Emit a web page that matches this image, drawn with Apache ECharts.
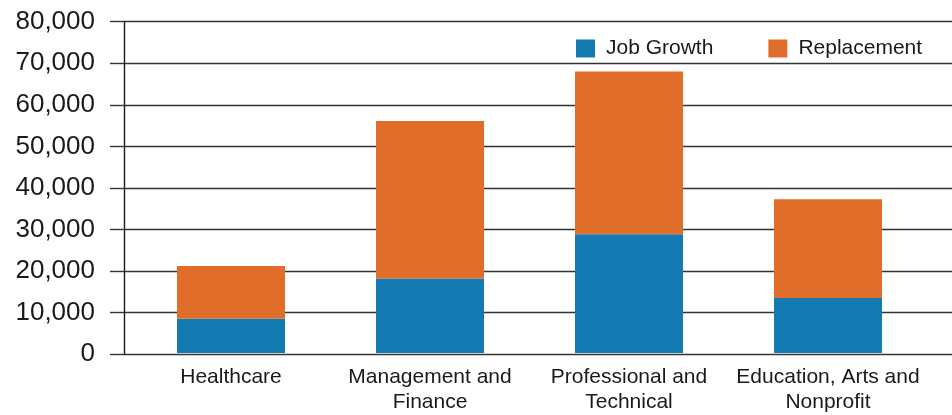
<!DOCTYPE html>
<html>
<head>
<meta charset="utf-8">
<script src="https://cdn.jsdelivr.net/npm/echarts@6/dist/echarts.min.js"></script>
<style>
  html, body { margin: 0; padding: 0; background: #ffffff; }
  #chart { width: 952px; height: 415px; }
</style>
</head>
<body>
<div id="chart"></div>
<script>
// Projected job openings by sector
const categories = ['Healthcare', 'Management and Finance', 'Professional and Technical', 'Education, Arts and Nonprofit'];
const jobGrowth = [8300, 18000, 28700, 13300];
const replacement = [12700, 38000, 39300, 23800];
const yTicks = { min: 0, max: 80000, interval: 10000 };

const FONT = '"Liberation Sans", Arial, Helvetica, sans-serif';
const TEXT = '#1a1a1a';
const BLUE = '#147ab2';
const ORANGE = '#e06d2a';

const chart = echarts.init(document.getElementById('chart'), null, { renderer: 'canvas' });

chart.setOption({
  animation: false,
  backgroundColor: '#ffffff',
  grid: [
    // frame: value axis, ticks and full-width gridlines
    { left: 124, right: 0, top: 21.7, bottom: 60.7, containLabel: false },
    // bars and category labels
    { left: 131.5, right: 24.5, top: 21.7, bottom: 60.7, containLabel: false }
  ],
  legend: {
    left: 571,
    top: 33,
    itemWidth: 19,
    itemHeight: 18,
    itemGap: 55,
    icon: 'rect',
    textStyle: { fontFamily: FONT, fontSize: 21, color: TEXT, padding: [0, 0, 0, 6] },
    data: ['Job Growth', 'Replacement']
  },
  xAxis: [
    { gridIndex: 0, type: 'category', data: categories, show: false },
    {
      gridIndex: 1,
      type: 'category',
      data: categories,
      axisLine: { show: false },
      axisTick: { show: false },
      axisLabel: {
        interval: 0,
        margin: 12,
        fontFamily: FONT,
        fontSize: 21,
        lineHeight: 25,
        color: TEXT,
        formatter: v => {
          const i = v.lastIndexOf(' ');
          return v.indexOf(' ') < 0 ? v : v.slice(0, i) + '\n' + v.slice(i + 1);
        }
      }
    }
  ],
  yAxis: [
    {
      gridIndex: 0,
      type: 'value',
      min: yTicks.min,
      max: yTicks.max,
      interval: yTicks.interval,
      axisLine: { show: true, lineStyle: { color: '#1a1a1a', width: 1.4 } },
      axisTick: { show: true, inside: false, length: 14, lineStyle: { color: '#333333', width: 1.4 } },
      splitLine: { show: true, lineStyle: { color: '#333333', width: 1.4 } },
      axisLabel: {
        margin: 29,
        fontFamily: FONT,
        fontSize: 26,
        color: TEXT,
        formatter: v => v.toLocaleString('en-US')
      }
    },
    {
      gridIndex: 1,
      type: 'value',
      min: yTicks.min,
      max: yTicks.max,
      interval: yTicks.interval,
      show: false
    }
  ],
  series: [
    {
      name: 'Job Growth',
      type: 'bar',
      stack: 'total',
      xAxisIndex: 1,
      yAxisIndex: 1,
      barWidth: 108,
      itemStyle: { color: BLUE },
      data: jobGrowth
    },
    {
      name: 'Replacement',
      type: 'bar',
      stack: 'total',
      xAxisIndex: 1,
      yAxisIndex: 1,
      barWidth: 108,
      itemStyle: { color: ORANGE },
      data: replacement
    }
  ]
});
</script>
</body>
</html>
